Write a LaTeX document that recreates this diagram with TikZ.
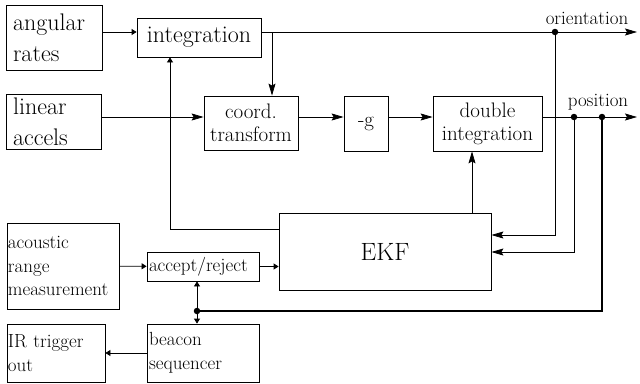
\documentclass[tikz,border=0pt]{standalone}
\usepackage{fontspec}
\usetikzlibrary{arrows.meta,positioning}

\tikzset{
  blk/.style={draw,line width=0.8pt,inner sep=0pt,align=center},
  lblk/.style={blk,align=left},
  big/.style={font=\fontsize{24}{31}\selectfont},
  mid/.style={font=\fontsize{21}{23}\selectfont},
  sml/.style={font=\fontsize{19}{23.5}\selectfont},
  sig/.style={line width=0.8pt},
  bus/.style={line width=2pt},
  bigtip/.style={-{Stealth[length=12pt,width=7pt,inset=2pt]}},
  smltip/.style={-{Triangle[length=5pt,width=6pt]}},
  jdot/.style={circle,fill,inner sep=0pt,minimum size=6.5pt},
}

\begin{document}
\begin{tikzpicture}[x=1pt,y=-1pt]
\useasboundingbox(0,0)rectangle(640,383);
% blocks
\node[lblk,big,minimum height=65pt,text width=82pt,inner xsep=7pt](rates)at(54,37.5){angular\\rates};
\node[blk,big,minimum width=124pt,minimum height=39pt](integ)at(199,37.5){integration};
\node[lblk,big,minimum height=55pt,text width=81pt,inner xsep=7pt](accels)at(53.5,121.5){linear\\accels};
\node[blk,mid,minimum width=94pt,minimum height=54pt](coord)at(251,123){coord.\\transform};
\node[blk,mid,minimum width=44pt,minimum height=55pt](negg)at(366,123.5){-g};
\node[blk,mid,minimum width=109pt,minimum height=55pt](dint)at(487.5,123.5){double\\integration};
\node[blk,font=\fontsize{25}{30}\selectfont,minimum width=212pt,minimum height=77pt](ekf)at(385,251.5){EKF};
\node[lblk,sml,minimum height=86pt,text width=110pt,inner xsep=1pt](acou)at(63,266){acoustic\\range\\measurement};
\node[lblk,sml,minimum height=29pt,text width=108pt,inner xsep=2pt](accrej)at(203,266.5){accept/reject};
\node[lblk,sml,minimum height=58pt,text width=96pt,inner xsep=1pt](irout)at(56,353){IR trigger\\out};
\node[lblk,sml,minimum height=58pt,text width=108pt,inner xsep=2pt](beac)at(203,353){beacon\\sequencer};
% rows, columns and junctions
\coordinate(orow)at(0,32);\coordinate(prow)at(0,117);
\coordinate(oout)at(637,32);\coordinate(pout)at(637,117);
\coordinate(tap)at(272,32);\coordinate(fb)at(170,229);\coordinate(dcol)at(472,200);
\coordinate(erow1)at(0,235);\coordinate(erow2)at(0,252);
\node[jdot](odot)at(555,32){};\node[jdot](pdot1)at(574,117){};\node[jdot](pdot2)at(602,117){};
\node[jdot](bdot)at(197,311){};
\node[sml,above=0pt of odot,xshift=32pt](olab){orientation};
\node[sml,above=0pt of pdot2,xshift=-4pt](plab){position};
% signals
\draw[sig,smltip](rates.east|-orow)--(integ.west|-orow);
\draw[sig,bigtip](integ.east|-orow)--(oout);
\draw[sig,bigtip](tap)--(tap|-coord.north);
\draw[sig,bigtip](accels.east|-prow)--(coord.west|-prow);
\draw[sig,bigtip](coord.east|-prow)--(negg.west|-prow);
\draw[sig,bigtip](negg.east|-prow)--(dint.west|-prow);
\draw[sig,bigtip](dint.east|-prow)--(pout);
\draw[sig,bigtip](odot)|-(ekf.east|-erow1);
\draw[sig,bigtip](pdot1)|-(ekf.east|-erow2);
\draw[bus](pdot2)|-(bdot);
\draw[sig,smltip](bdot)--(bdot|-accrej.south);
\draw[sig,smltip](bdot)--(bdot|-beac.north);
\draw[sig,smltip](acou)--(accrej);
\draw[sig,smltip](accrej.east)--(ekf.west|-accrej.east);
\draw[sig,smltip](ekf.west|-fb)-|(fb|-integ.south);
\draw[sig,bigtip](ekf.north-|dcol)--(dint.south-|dcol);
\draw[sig,smltip](beac)--(irout);
\end{tikzpicture}
\end{document}
